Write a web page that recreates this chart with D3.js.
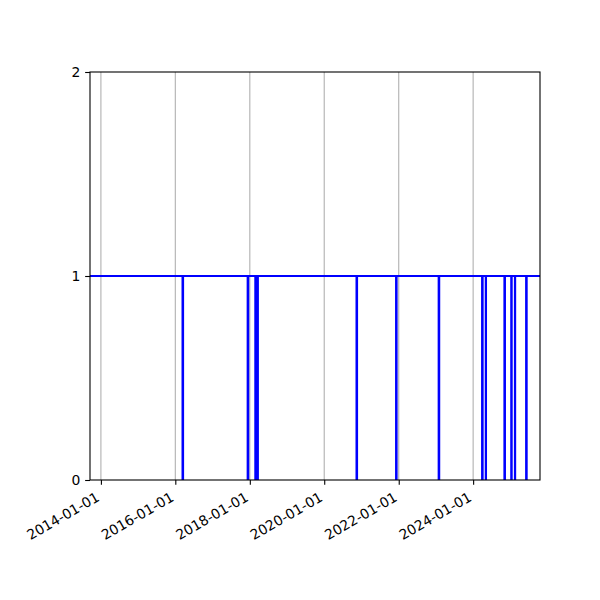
<!DOCTYPE html>
<html>
<head>
<meta charset="utf-8">
<script src="https://cdn.jsdelivr.net/npm/d3@7"></script>
<style>
  html, body { margin: 0; padding: 0; background: #ffffff; }
  svg { display: block; }
  text { font-family: "DejaVu Sans", sans-serif; }
</style>
</head>
<body>
<svg id="chart" width="600" height="600"></svg>
<script>
// ---- data ----
const xDomain = ["2013-09-16", "2025-10-18"];
// short periods where the value drops to 0: start and end dates
const dropStarts = ["2016-03-12", "2017-12-11", "2018-02-24", "2018-03-18", "2020-11-13", "2021-12-06", "2023-01-28", "2024-03-29", "2024-05-04", "2024-11-03", "2025-01-09", "2025-02-14", "2025-06-04"];
const dropEnds   = ["2016-03-17", "2017-12-16", "2018-02-28", "2018-03-21", "2020-11-18", "2021-12-11", "2023-02-02", "2024-04-03", "2024-05-06", "2024-11-08", "2025-01-13", "2025-02-16", "2025-06-09"];
const baseValue = 1;
const dropValue = 0;
const yTicks = [0, 1, 2];
const xTickYears = [2014, 2016, 2018, 2020, 2022, 2024];

// ---- build step series ----
const parse = d3.utcParse("%Y-%m-%d");
const series = [{ date: parse(xDomain[0]), value: baseValue }];
dropStarts.forEach((s, i) => {
  series.push({ date: parse(s), value: dropValue });
  series.push({ date: parse(dropEnds[i]), value: baseValue });
});
series.push({ date: parse(xDomain[1]), value: baseValue });

// ---- layout ----
const L = 90, R = 540, T = 72, B = 480;
const svg = d3.select("#chart");
svg.append("rect").attr("width", 600).attr("height", 600).attr("fill", "#ffffff");

const x = d3.scaleUtc().domain(xDomain.map(parse)).range([L, R]);
const y = d3.scaleLinear().domain([0, 2]).range([B, T]);
const xTicks = xTickYears.map(yr => new Date(Date.UTC(yr, 0, 1)));
const fmt = d3.utcFormat("%Y-%m-%d");

// clip
svg.append("defs").append("clipPath").attr("id", "clip")
  .append("rect").attr("x", L).attr("y", T).attr("width", R - L).attr("height", B - T);

// grid (vertical only)
svg.append("g").selectAll("line").data(xTicks).join("line")
  .attr("x1", d => x(d)).attr("x2", d => x(d))
  .attr("y1", T).attr("y2", B)
  .attr("stroke", "#b0b0b0").attr("stroke-width", 1.1);

// line
const line = d3.line().x(d => x(d.date)).y(d => y(d.value)).curve(d3.curveStepAfter);
svg.append("path").datum(series)
  .attr("clip-path", "url(#clip)")
  .attr("d", line)
  .attr("fill", "none").attr("stroke", "#0000ff").attr("stroke-width", 2.08)
  .attr("stroke-linejoin", "miter").attr("stroke-linecap", "butt");

// x axis
const xAxis = d3.axisBottom(x).tickValues(xTicks).tickFormat(fmt).tickSize(4.86).tickPadding(4.86);
const gx = svg.append("g").attr("transform", `translate(0,${B})`).call(xAxis);
gx.select(".domain").remove();
gx.selectAll(".tick line").attr("stroke", "#000").attr("stroke-width", 1.1);
gx.selectAll(".tick text")
  .attr("font-size", "13.9px").attr("fill", "#000")
  .attr("text-anchor", "end")
  .attr("dy", null)
  .attr("y", 0)
  .attr("transform", "translate(-1,20) rotate(-30)");

// y axis
const yAxis = d3.axisLeft(y).tickValues(yTicks).tickFormat(d3.format("d")).tickSize(4.86).tickPadding(4.86);
const gy = svg.append("g").attr("transform", `translate(${L},0)`).call(yAxis);
gy.select(".domain").remove();
gy.selectAll(".tick line").attr("stroke", "#000").attr("stroke-width", 1.1);
gy.selectAll(".tick text").attr("font-size", "13.9px").attr("fill", "#000");

// spines
svg.append("rect").attr("x", L).attr("y", T).attr("width", R - L).attr("height", B - T)
  .attr("fill", "none").attr("stroke", "#000").attr("stroke-width", 1.1);
</script>
</body>
</html>
